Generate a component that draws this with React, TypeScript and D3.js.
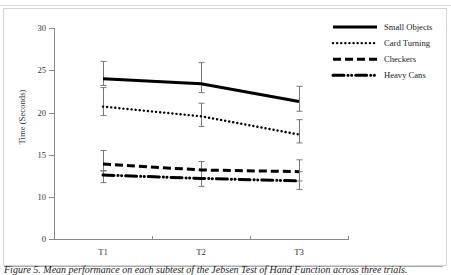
import React from 'react';
import * as d3 from 'd3';

// trials on the x axis
const trials = ['T1', 'T2', 'T3'];

// y axis ticks (axis is compressed between 0 and 10)
const yTicks = [0, 10, 15, 20, 25, 30];

const seriesNames = ['Small Objects', 'Card Turning', 'Checkers', 'Heavy Cans'];

// mean time per trial
const smallObjects = [24.0, 23.4, 21.3];
const cardTurning = [20.7, 19.55, 17.4];
const checkers = [13.9, 13.2, 13.0];
const heavyCans = [12.6, 12.2, 11.9];

// error bar ends [low, high] per trial
const smallObjectsErr = [[23.2, 26.05], [22.35, 25.9], [20.15, 23.1]];
const cardTurningErr = [[19.65, 22.95], [18.35, 21.1], [16.4, 19.15]];
const checkersErr = [[13.1, 15.5], [12.2, 14.2], [11.9, 14.4]];
const heavyCansErr = [[11.7, 13.1], [11.25, 13.2], [10.9, 13.0]];

const W = 451;
const H = 275;
const font = '"Liberation Serif", "Times New Roman", serif';

const dashes = [null, '0.1 4', '8 4', '11 4 0.1 3.5 0.1 4'];

const App = () => {
  const x = d3.scaleBand().domain(trials).range([54, 348]);
  const y = d3.scaleLinear().domain([0, 10, 30]).range([239, 197, 28]);

  const means = [smallObjects, cardTurning, checkers, heavyCans];
  const errs = [smallObjectsErr, cardTurningErr, checkersErr, heavyCansErr];

  const line = d3.line<number>()
    .x((d, i) => x(trials[i])! + x.bandwidth() / 2)
    .y(d => y(d));

  const bounds = [54, ...trials.map(t => x(t)! + x.bandwidth())];

  return (
    <svg width={W} height={H} style={{ position: 'fixed', left: 0, top: 0, background: '#fff' }} fontFamily={font}>
      {/* page frame */}
      <line x1={0} x2={W} y1={5.5} y2={5.5} stroke="#ddd" />
      <rect x={3.5} y={8.5} width={443} height={257} fill="none" stroke="#d4d4d4" />
      <line x1={4} x2={443} y1={266.5} y2={266.5} stroke="#aaa" />

      {/* y axis */}
      <line x1={54.5} x2={54.5} y1={y(30)} y2={y(0)} stroke="#888" />
      {yTicks.map(t => (
        <g key={t} transform={`translate(0,${Math.round(y(t)) + 0.5})`}>
          <line x1={49} x2={54} stroke="#888" />
          <text x={46} dy="0.32em" textAnchor="end" fontSize={8.5} fill="#333">{t}</text>
        </g>
      ))}
      <text transform={`translate(25,117) rotate(-90)`} textAnchor="middle" fontSize={8.7} fill="#333">
        Time (Seconds)
      </text>

      {/* x axis */}
      <line x1={54} x2={348} y1={239.5} y2={239.5} stroke="#888" />
      {bounds.map(b => (
        <line key={b} x1={Math.round(b) + 0.5} x2={Math.round(b) + 0.5} y1={236} y2={240} stroke="#888" />
      ))}
      {trials.map(t => (
        <text key={t} x={x(t)! + x.bandwidth() / 2} y={255} textAnchor="middle" fontSize={8.7} fill="#333">{t}</text>
      ))}

      {/* error bars */}
      {errs.map((s, si) => s.map(([lo, hi], i) => {
        const cx = Math.round(x(trials[i])! + x.bandwidth() / 2) + 0.5;
        return (
          <g key={`${si}-${i}`} stroke="#777" strokeWidth={1}>
            <line x1={cx} x2={cx} y1={y(lo)} y2={y(hi)} />
            <line x1={cx - 3} x2={cx + 3} y1={y(lo)} y2={y(lo)} />
            <line x1={cx - 3} x2={cx + 3} y1={y(hi)} y2={y(hi)} />
          </g>
        );
      }))}

      {/* series */}
      {means.map((m, si) => (
        <path key={si} d={line(m)!} fill="none" stroke="#000"
          strokeWidth={si === 1 ? 2.4 : 3}
          strokeLinecap={si === 1 || si === 3 ? 'round' : 'butt'}
          strokeDasharray={dashes[si] ?? undefined} />
      ))}

      {/* legend */}
      {seriesNames.map((n, i) => {
        const ly = 27 + i * 16.1;
        return (
          <g key={n}>
            <line x1={333} x2={377} y1={ly} y2={ly} stroke="#000"
              strokeWidth={i === 1 ? 2.4 : 3}
              strokeLinecap={i === 1 || i === 3 ? 'round' : 'butt'}
              strokeDasharray={dashes[i] ?? undefined} />
            <text x={384} y={ly} dy="0.32em" fontSize={8.6} fill="#222">{n}</text>
          </g>
        );
      })}

      {/* caption */}
      <text x={4} y={273} fontSize={10} fontStyle="italic" fill="#222">
        Figure 5. Mean performance on each subtest of the Jebsen Test of Hand Function across three trials.
      </text>
    </svg>
  );
};

export default App;
